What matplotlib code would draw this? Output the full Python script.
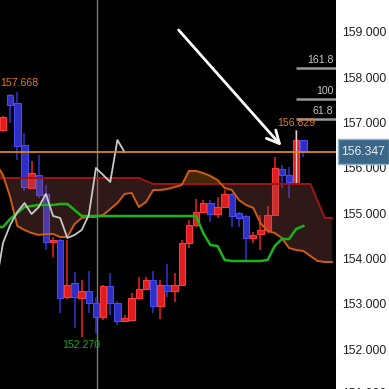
import numpy as np
import matplotlib
matplotlib.use("Agg")
import matplotlib.pyplot as plt
from matplotlib import transforms
from matplotlib.patches import Rectangle

plt.rcParams["font.family"] = ["Liberation Sans", "DejaVu Sans"]

# candles (open, high, low, close)
opens = [156.837, 157.609, 157.439, 156.506, 155.563, 155.843, 155.424, 154.364, 154.408, 153.150,
         153.459, 153.128, 153.283, 153.018, 152.709, 153.393, 153.018, 152.620, 152.642, 153.128,
         153.327, 153.525, 152.951, 153.415, 153.283, 153.415, 154.342, 154.740, 155.026, 155.225,
         154.982, 155.137, 155.424, 155.004, 154.938, 154.453, 154.541, 154.629, 154.960, 155.976,
         155.843, 155.667, 156.616]
highs = [157.150, 157.630, 157.668, 156.770, 156.152, 156.285, 155.623, 154.475, 154.430, 154.408,
         153.702, 153.525, 153.724, 153.150, 153.420, 153.680, 153.060, 152.753, 153.238, 153.592,
         153.600, 153.724, 153.525, 153.879, 153.680, 154.408, 154.850, 155.313, 155.291, 155.291,
         155.358, 155.512, 155.450, 155.020, 154.960, 154.585, 154.960, 155.159, 156.241, 156.064,
         156.020, 156.829, 156.620]
lows = [156.792, 156.991, 156.174, 155.490, 155.540, 155.330, 154.188, 154.033, 152.797, 153.100,
        152.466, 152.270, 152.797, 152.355, 152.642, 152.753, 152.532, 152.600, 152.620, 153.080,
        153.300, 152.797, 152.664, 153.150, 153.040, 153.400, 154.232, 154.700, 155.000, 154.806,
        154.894, 155.120, 154.695, 154.695, 153.967, 154.342, 154.188, 154.563, 154.940, 155.556,
        155.336, 155.645, 156.241]
closes = [157.130, 157.389, 156.483, 155.585, 155.881, 155.402, 154.364, 154.408, 153.128, 153.415,
          153.150, 153.283, 153.018, 152.709, 153.393, 153.018, 152.620, 152.687, 153.128, 153.327,
          153.525, 152.951, 153.415, 153.283, 153.415, 154.342, 154.740, 155.026, 155.225, 154.982,
          155.137, 155.424, 154.938, 154.894, 154.453, 154.519, 154.629, 154.960, 155.998, 155.843,
          155.689, 156.616, 156.347]

# kijun (green), starts one bar left of the first candle
kijun = [154.695, 154.695, 154.872, 155.004, 155.137, 155.159, 155.181, 155.181, 155.181, 155.203,
         155.203, 155.071, 154.938, 154.938, 154.938, 154.938, 154.938, 154.938, 154.938, 154.938,
         154.938, 154.938, 154.938, 154.938, 154.938, 154.938, 154.938, 154.938, 154.938, 154.563,
         154.298, 154.276, 153.967, 153.945, 153.945, 153.945, 153.945, 153.945, 153.967, 154.276,
         154.430, 154.430, 154.651, 154.717]

# cloud, starts one bar left of the first candle
span_a = [156.100, 155.843, 155.358, 154.717, 154.629, 154.563, 154.519, 154.541, 154.541, 154.475,
          154.475, 154.762, 154.894, 154.916, 154.916, 154.960, 155.093, 155.225, 155.424, 155.446,
          155.137, 155.247, 155.512, 155.512, 155.534, 155.578, 155.623, 155.932, 155.932, 155.887,
          155.821, 155.733, 155.556, 155.512, 155.291, 155.181, 155.115, 154.784, 154.607, 154.563,
          154.453, 154.232, 154.188, 154.166, 154.055, 153.945, 153.923, 153.923]
span_b = [155.777] * 21 + [155.710] + [155.645] * 23 + [155.269, 154.894, 154.894]

chikou_shift = 25
last_price = 156.347

fib_levels = [158.21, 157.51, 157.08]
fib_labels = ["161.8", "100", "61.8"]

price_ticks = [152, 153, 154, 155, 156, 157, 158, 159]

n = len(closes)
x = np.arange(n)
xc = np.arange(-1, len(span_a) - 1)
xk = np.arange(-1, len(kijun) - 1)

fig = plt.figure(figsize=(3.89, 3.89), dpi=100, facecolor="white")
ax = fig.add_axes([0, 0, 336 / 389, 1])
ax.set_facecolor("black")

o = np.array(opens)
c = np.array(closes)
up = c >= o
col = np.where(up, "#de1e1e", "#2f2fc4")
edge = np.where(up, "#ff3a3a", "#4a4af2")

ax.vlines(x, lows, highs, colors=col, lw=1.2, zorder=2)
bottom = np.minimum(o, c)
height = np.maximum(np.abs(c - o), 0.03)
ax.bar(x, height, bottom=bottom, width=0.9, color=col, edgecolor=edge, lw=0.8, zorder=3)
# light marker line through the high candle
ax.vlines(x[41], opens[41], highs[41], colors="#e8d0d0", lw=1.0, zorder=4)

# cloud
a = np.array(span_a)
b = np.array(span_b)
ax.fill_between(xc, a, b, where=b >= a, interpolate=True, color="#9a5050", alpha=0.3, lw=0, zorder=5)
ax.fill_between(xc, a, b, where=a >= b, interpolate=True, color="#b0601c", alpha=0.4, lw=0, zorder=5)
ax.plot(xc, b, color="#a01414", lw=1.4, zorder=6)
ax.plot(xc, a, color="#cf5c12", lw=1.4, zorder=6)

ax.plot(xk, kijun, color="#18b418", lw=1.8, zorder=7)
ax.plot(x[chikou_shift - 1:] - chikou_shift, c[chikou_shift - 1:], color="#c8c8c8", lw=1.3, zorder=7)

ax.axvline(13.1, color="#7a7a7a", lw=1.0, zorder=1)
ax.axhline(last_price, color="#d8861a", lw=1.3, zorder=8)

for lv, lb in zip(fib_levels, fib_labels):
    ax.plot([41, 46.6], [lv, lv], color="#9a9a9a", lw=1.8, zorder=8, solid_capstyle="butt")
    ax.text(46.2, lv + 0.07, lb, color="#c8c8c8", fontsize=7.6, ha="right", va="bottom", zorder=9)

ax.text(-0.45, highs[2] + 0.1, f"{highs[2]:.3f}", color="#e8781e", fontsize=7.6, ha="left", va="bottom", zorder=9)
ax.text(41, highs[41] + 0.06, f"{highs[41]:.3f}", color="#e8781e", fontsize=7.6, ha="center", va="bottom", zorder=9)
ax.text(10.9, lows[11] - 0.06, f"{lows[11]:.3f}", color="#1aa81a", fontsize=7.6, ha="center", va="top", zorder=9)

ax.annotate("", xy=(39.2, 156.44), xytext=(24.3, 159.09),
            arrowprops=dict(arrowstyle="->,head_length=0.9,head_width=0.45", color="white", lw=2), zorder=9)

ax.set_xlim(-0.42, 46.57)
ax.set_ylim(151.119, 159.706)
ax.yaxis.tick_right()
ax.set_yticks(price_ticks)
ax.set_yticklabels([f"{t:.3f}" for t in price_ticks])
ax.tick_params(axis="y", length=0, pad=4.3, labelsize=8.8, labelcolor="#202020")
ax.set_xticks([])
for s in ax.spines.values():
    s.set_visible(False)

tr = transforms.blended_transform_factory(ax.transAxes, ax.transData)
ax.text(1 + 6 / 336, 151.0, "151.000", transform=tr, fontsize=8.8, color="#202020",
        ha="left", va="center", clip_on=False)

# current price box on the scale
ax.add_patch(Rectangle((338 / 389, (389 - 164) / 389), 51 / 389, 25 / 389,
                       transform=fig.transFigure, facecolor="#3a6788", edgecolor="#8fb0c8",
                       lw=1, zorder=10, clip_on=False))
ax.text(1 + 27 / 336, last_price, f"{last_price:.3f}", transform=tr, fontsize=8.8,
        color="#e6eef5", ha="center", va="center", clip_on=False, zorder=11)

fig.savefig("out.png", dpi=100, facecolor="white")
